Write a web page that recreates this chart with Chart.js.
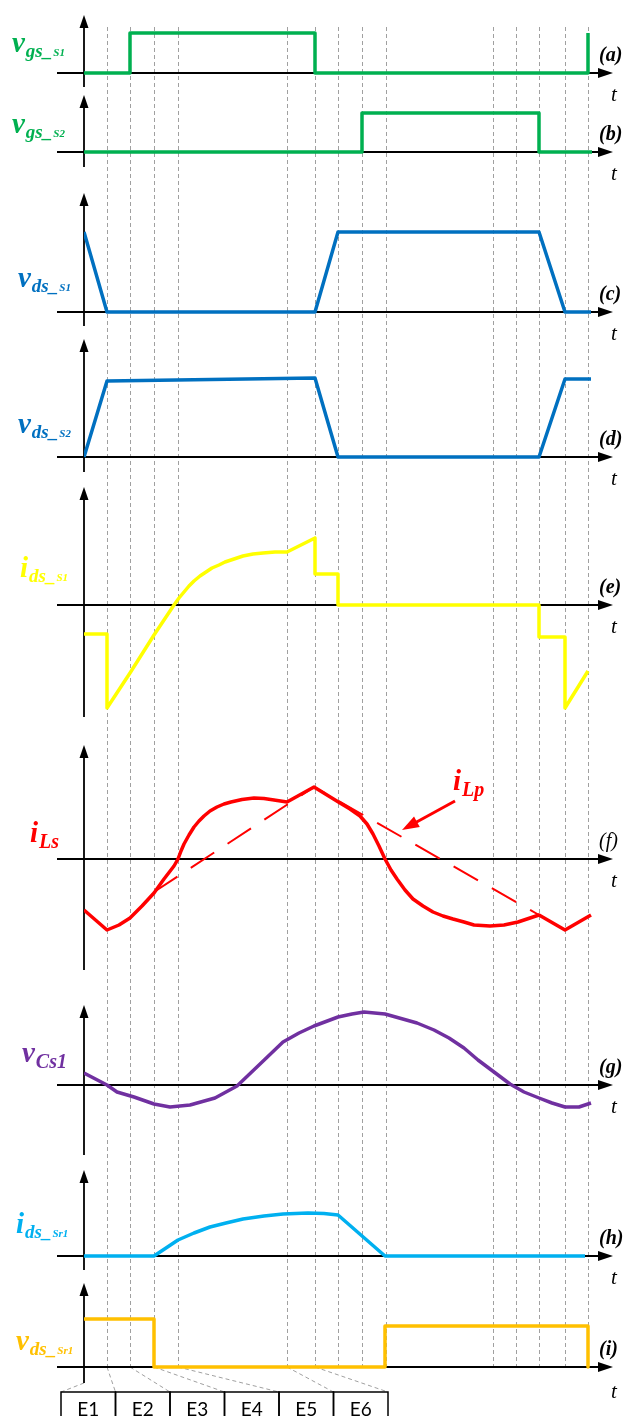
<!DOCTYPE html>
<html>
<head>
<meta charset="utf-8">
<script src="https://cdn.jsdelivr.net/npm/chart.js@4.4.1/dist/chart.umd.min.js"></script>
<style>
  html, body { margin: 0; padding: 0; background: #fff; }
  canvas { display: block; }
</style>
</head>
<body>
<canvas id="wave" width="635" height="1416"></canvas>
<script>
// switching instants over one period (time units, 0 = start of E1)
const instants = [23, 46, 70, 94, 203, 231, 254, 278, 302, 409, 432, 455, 481, 504];
// interval names and the instants that bound them
const intervals = ['E1', 'E2', 'E3', 'E4', 'E5', 'E6'];
const intervalEdges = [0, 23, 46, 70, 94, 203, 231];

// waveforms as [t, value] pairs
const vgsS1 = [[0, 0], [46, 0], [46, 40], [231, 40], [231, 0], [504, 0], [504, 40]];
const vgsS2 = [[0, 0], [278, 0], [278, 39], [455, 39], [455, 0], [508, 0]];
const vdsS1 = [[0, 80], [23, 0], [231, 0], [254, 80], [455, 80], [481, 0], [507, 0]];
const vdsS2 = [[0, 0], [23, 76], [231, 79], [254, 0], [455, 0], [481, 78], [507, 78]];
const idsS1 = [[0, -29], [23, -29], [23, -103], [46, -68], [70, -30], [90, 0], [95, 7], [100, 13], [105, 19],
  [110, 24], [116, 29], [122, 33], [128, 37], [135, 40], [141, 43], [147, 45], [153, 47], [159, 49],
  [169, 51], [179, 52], [191, 53], [203, 53], [231, 67], [231, 31], [254, 31],
  [254, 0], [455, 0], [455, -32], [481, -32], [481, -103], [504, -66]];
const iLs = [[0, -51], [23, -71], [35, -66], [46, -59], [58, -47], [70, -34], [80, -20], [90, -7], [94, 0],
  [97, 8], [100, 15], [105, 24], [110, 32], [115, 38], [120, 43], [126, 48], [133, 52], [140, 55], [147, 57],
  [158, 59.5], [170, 61], [180, 60.5], [190, 59], [203, 57], [230, 72],
  [256, 56], [266, 50], [276, 43], [283, 35], [289, 25], [295, 13], [301, 0], [307, -11], [313, -20],
  [321, -31], [329, -40], [339, -47], [349, -53], [359, -57], [369, -60], [380, -63], [390, -66], [406, -67],
  [420, -66], [434, -63], [455, -56], [481, -71], [507, -56]];
const iLp = [[70, -33], [230, 72], [455, -56]];
const vCs1 = [[0, 12], [23, 0], [33, -7], [50, -12], [70, -19], [86, -22], [106, -20], [131, -13],
  [153, -1], [175, 20], [199, 43], [215, 52], [230, 59], [254, 68], [268, 71], [280, 73], [301, 71],
  [333, 62], [350, 55], [365, 47], [380, 37], [394, 25], [410, 13], [426, 1], [440, -7], [455, -13],
  [468, -18], [481, -22], [495, -22], [507, -18]];
const idsSr1 = [[0, 0], [70, 0], [82, 8], [94, 16], [110, 23], [126, 29], [142, 33], [159, 37], [180, 40],
  [199, 42], [224, 43], [240, 42.5], [254, 41], [301, 0], [501, 0]];
const vdsSr1 = [[0, 48], [70, 48], [70, 0], [301, 0], [301, 41], [504, 41], [504, 0]];

// one stacked y axis per trace, top to bottom; range in value units, axis arrow extent, label text
const panels = [
  { id: 'ya', min: -19, max: 73, top: 58, bottom: -14, tag: '(a)', color: '#00B050', name: ['v', 'gs_', 'S1'], lx: 12, ly: -21 },
  { id: 'yb', min: -18, max: 60, top: 57, bottom: -15, tag: '(b)', color: '#00B050', name: ['v', 'gs_', 'S2'], lx: 12, ly: -19 },
  { id: 'yc', min: -18, max: 142, top: 119, bottom: -14, tag: '(c)', color: '#0070C0', name: ['v', 'ds_', 'S1'], lx: 18, ly: -25 },
  { id: 'yd', min: -18, max: 127, top: 118, bottom: -15, tag: '(d)', color: '#0070C0', name: ['v', 'ds_', 'S2'], lx: 18, ly: -24 },
  { id: 'ye', min: -125, max: 130, top: 118, bottom: -112, tag: '(e)', color: '#FFFF00', name: ['i', 'ds_', 'S1'], lx: 20, ly: -28 },
  { id: 'yf', min: -131, max: 129, top: 114, bottom: -111, tag: '(f)', color: '#FF0000', name: ['i', 'Ls', ''], lx: 30, ly: -17, plain: true },
  { id: 'yg', min: -80, max: 95, top: 80, bottom: -70, tag: '(g)', color: '#7030A0', name: ['v', 'Cs1', ''], lx: 22, ly: -23 },
  { id: 'yh', min: -19, max: 91, top: 86, bottom: -14, tag: '(h)', color: '#00B0F0', name: ['i', 'ds_', 'Sr1'], lx: 16, ly: -23 },
  { id: 'yi', min: -49, max: 92, top: 84, bottom: -16, tag: '(i)', color: '#FFC000', name: ['v', 'ds_', 'Sr1'], lx: 16, ly: -17 }
];

const traces = [
  { data: vgsS1, axis: 'ya', color: '#00B050' },
  { data: vgsS2, axis: 'yb', color: '#00B050' },
  { data: vdsS1, axis: 'yc', color: '#0070C0' },
  { data: vdsS2, axis: 'yd', color: '#0070C0' },
  { data: idsS1, axis: 'ye', color: '#FFFF00' },
  { data: iLp, axis: 'yf', color: '#FF0000', dash: [28, 16], width: 2 },
  { data: iLs, axis: 'yf', color: '#FF0000' },
  { data: vCs1, axis: 'yg', color: '#7030A0' },
  { data: idsSr1, axis: 'yh', color: '#00B0F0' },
  { data: vdsSr1, axis: 'yi', color: '#FFC000' }
];

const SERIF = '"Liberation Serif", "Times New Roman", serif';

function arrowHead(ctx, x, y, angle, len, half) {
  ctx.save();
  ctx.translate(x, y);
  ctx.rotate(angle);
  ctx.beginPath();
  ctx.moveTo(0, 0);
  ctx.lineTo(-len, -half);
  ctx.lineTo(-len, half);
  ctx.closePath();
  ctx.fill();
  ctx.restore();
}

function line(ctx, x1, y1, x2, y2) {
  ctx.beginPath();
  ctx.moveTo(x1, y1);
  ctx.lineTo(x2, y2);
  ctx.stroke();
}

// main letter with two levels of subscript
function traceName(ctx, x, y, parts, color) {
  const big = parts[1].length > 0 && !parts[1].includes('_');
  const runs = [
    { text: parts[0], size: 29, dy: 0 },
    { text: parts[1], size: big ? 20 : 19, dy: big ? 6 : 5 },
    { text: parts[2], size: 11, dy: 4 }
  ];
  ctx.fillStyle = color;
  ctx.textBaseline = 'alphabetic';
  ctx.textAlign = 'left';
  runs.forEach(r => {
    if (!r.text) return;
    ctx.font = `italic bold ${r.size}px ${SERIF}`;
    ctx.fillText(r.text, x, y + r.dy);
    x += ctx.measureText(r.text).width + 1;
  });
}

const diagram = {
  id: 'diagram',
  beforeDatasetsDraw(chart) {
    const ctx = chart.ctx;
    const xs = chart.scales.x;
    const yi = chart.scales.yi;
    ctx.save();

    // dashed instants through every trace
    ctx.strokeStyle = '#a0a0a0';
    ctx.lineWidth = 1;
    ctx.setLineDash([4, 3]);
    const base = yi.getPixelForValue(0);
    instants.forEach(t => {
      const px = Math.round(xs.getPixelForValue(t)) + 0.5;
      line(ctx, px, 27, px, base);
    });

    // leaders from the instants to the interval boxes
    const boxLeft = xs.getPixelForValue(-23);
    const boxW = 54.5;
    const boxTop = yi.getPixelForValue(-25);
    intervalEdges.forEach((t, k) => {
      const px = xs.getPixelForValue(t);
      const py = k === 0 ? yi.getPixelForValue(-16) : base;
      line(ctx, px, py, boxLeft + k * boxW, boxTop);
    });
    ctx.setLineDash([]);

    // axes with arrows
    ctx.strokeStyle = '#000';
    ctx.fillStyle = '#000';
    ctx.lineWidth = 1.8;
    const x0 = xs.getPixelForValue(0);
    const xStart = xs.getPixelForValue(-27);
    const xTip = xs.getPixelForValue(529);
    panels.forEach(p => {
      const ys = chart.scales[p.id];
      const y0 = ys.getPixelForValue(0);
      const yTop = ys.getPixelForValue(p.top);
      const yBot = ys.getPixelForValue(p.bottom);
      line(ctx, x0, yBot, x0, yTop + 10);
      arrowHead(ctx, x0, yTop, -Math.PI / 2, 13, 4.5);
      line(ctx, xStart, y0, xTip - 10, y0);
      arrowHead(ctx, xTip, y0, 0, 15, 5);
    });
    ctx.restore();
  },
  afterDatasetsDraw(chart) {
    const ctx = chart.ctx;
    const xs = chart.scales.x;
    ctx.save();

    panels.forEach(p => {
      const ys = chart.scales[p.id];
      const y0 = ys.getPixelForValue(0);
      traceName(ctx, p.lx, y0 + p.ly, p.name, p.color);
      ctx.fillStyle = '#000';
      ctx.textAlign = 'left';
      ctx.textBaseline = 'middle';
      ctx.font = `italic ${p.plain ? '' : 'bold '}20px ${SERIF}`;
      ctx.fillText(p.tag, 599, y0 - 17);
      ctx.font = `italic 21px ${SERIF}`;
      ctx.fillText('t', 611, y0 + (p.id === 'yi' ? 25 : 22));
    });

    // i_Lp callout
    const yf = chart.scales.yf;
    ctx.fillStyle = '#FF0000';
    ctx.strokeStyle = '#FF0000';
    ctx.lineWidth = 3;
    traceName(ctx, xs.getPixelForValue(369), yf.getPixelForValue(69), ['i', 'Lp', ''], '#FF0000');
    const ax = xs.getPixelForValue(371), ay = yf.getPixelForValue(58);
    const bx = xs.getPixelForValue(318), by = yf.getPixelForValue(29);
    const ang = Math.atan2(by - ay, bx - ax);
    line(ctx, ax, ay, bx - 12 * Math.cos(ang), by - 12 * Math.sin(ang));
    arrowHead(ctx, bx, by, ang, 17, 6);

    // interval boxes
    const yi = chart.scales.yi;
    const boxLeft = xs.getPixelForValue(-23);
    const boxW = 54.5;
    const boxTop = yi.getPixelForValue(-25);
    ctx.strokeStyle = '#000';
    ctx.lineWidth = 1.5;
    ctx.fillStyle = '#000';
    ctx.font = '19px Lato, "Open Sans", sans-serif';
    ctx.textAlign = 'center';
    ctx.textBaseline = 'alphabetic';
    intervals.forEach((name, k) => {
      const bx0 = boxLeft + k * boxW;
      ctx.strokeRect(bx0, boxTop, boxW, 40);
      ctx.fillText(name, bx0 + boxW / 2, boxTop + 24);
    });
    ctx.restore();
  }
};

const scales = {
  x: { type: 'linear', min: 0, max: 528, display: false }
};
// stacked axes are laid out bottom-up, so register the lowest trace first
panels.slice().reverse().forEach(p => {
  scales[p.id] = {
    type: 'linear', position: 'left', display: false,
    min: p.min, max: p.max,
    stack: 'traces', stackWeight: p.max - p.min
  };
});

new Chart(document.getElementById('wave'), {
  type: 'line',
  data: {
    datasets: traces.map(tr => ({
      data: tr.data.map(([t, v]) => ({ x: t, y: v })),
      yAxisID: tr.axis,
      borderColor: tr.color,
      borderWidth: tr.width || 3.5,
      borderDash: tr.dash || [],
      pointRadius: 0,
      tension: 0,
      fill: false,
      borderJoinStyle: 'round'
    }))
  },
  options: {
    responsive: false,
    animation: false,
    events: [],
    layout: { padding: { left: 84, right: 23, top: 0, bottom: 0 } },
    scales,
    plugins: { legend: { display: false }, tooltip: { enabled: false } }
  },
  plugins: [diagram]
});
</script>
</body>
</html>
